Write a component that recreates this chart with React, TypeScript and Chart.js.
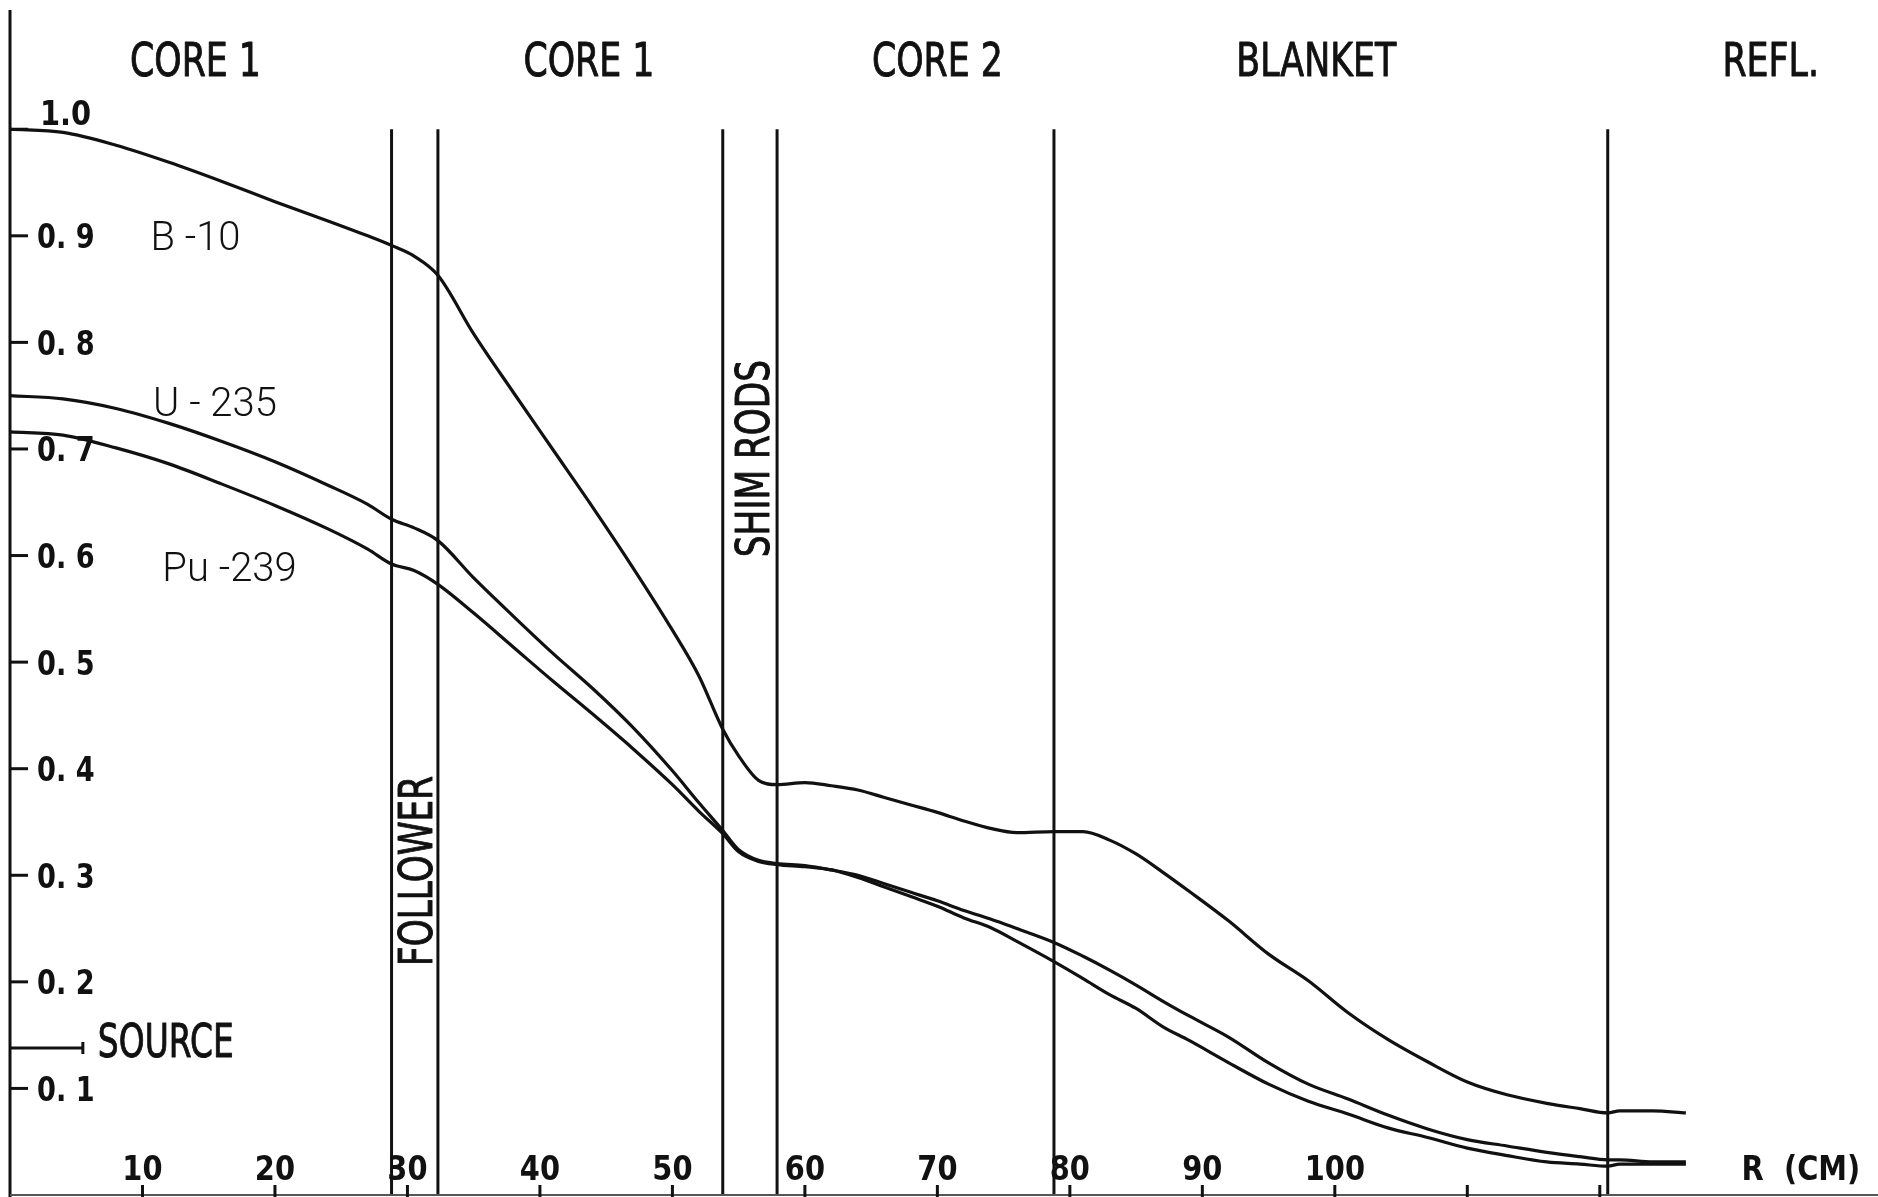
import React, { useEffect, useRef } from "react";
import { Chart, registerables } from "chart.js";

Chart.register(...registerables);

// ---- Data (radius in cm, relative reaction rate) ----
const R_CM = [
  0, 4, 8, 12, 16, 20, 24, 27, 28.8, 30.5, 32.3, 35, 38, 41, 44, 47, 50, 52, 53.8, 55, 56.5, 57.9,
  60, 62, 64, 66, 68, 70, 72, 74, 76, 78.8, 81, 83, 85, 87, 89, 92, 95, 98, 101, 104, 107, 110,
  113, 116, 118.5, 120.6, 121.5, 124, 126.5,
];

const B10 = [
  1.0, 0.997, 0.985, 0.969, 0.951, 0.932, 0.914, 0.9, 0.891, 0.881, 0.863, 0.808, 0.753, 0.699,
  0.645, 0.589, 0.53, 0.487, 0.437, 0.412, 0.389, 0.385, 0.387, 0.384, 0.38, 0.373, 0.366, 0.359,
  0.351, 0.344, 0.34, 0.341, 0.341, 0.333, 0.32, 0.303, 0.285, 0.257, 0.226, 0.201, 0.171, 0.146,
  0.125, 0.106, 0.094, 0.086, 0.081, 0.077, 0.079, 0.079, 0.077,
];

const U235 = [
  0.75, 0.747, 0.738, 0.724, 0.707, 0.688, 0.666, 0.648, 0.634, 0.626, 0.614, 0.579, 0.543, 0.508,
  0.475, 0.439, 0.398, 0.368, 0.342, 0.324, 0.314, 0.311, 0.309, 0.305, 0.3, 0.292, 0.284, 0.276,
  0.267, 0.259, 0.25, 0.237, 0.224, 0.211, 0.197, 0.182, 0.168, 0.148, 0.124, 0.104, 0.09, 0.075,
  0.062, 0.052, 0.046, 0.04, 0.036, 0.033, 0.033, 0.031, 0.031,
];

const PU239 = [
  0.716, 0.713, 0.701, 0.686, 0.667, 0.647, 0.625, 0.606, 0.592, 0.586, 0.573, 0.546, 0.514, 0.482,
  0.451, 0.419, 0.385, 0.36, 0.339, 0.322, 0.313, 0.31, 0.308, 0.305, 0.298, 0.289, 0.28, 0.271,
  0.26, 0.251, 0.238, 0.219, 0.203, 0.188, 0.175, 0.158, 0.145, 0.124, 0.104, 0.088, 0.076, 0.063,
  0.054, 0.044, 0.037, 0.031, 0.029, 0.027, 0.029, 0.029, 0.029,
];

const SERIES_NAMES = ["B -10", "U - 235", "Pu -239"];
const SERIES_LABEL_R = [10.6, 10.8, 11.5];
const SERIES_LABEL_V = [0.9, 0.745, 0.59];

const BOUNDARIES_CM = [28.8, 32.3, 53.8, 57.9, 78.8, 120.6];
const BOUNDARY_TOP = 1.0;

const REGION_NAMES = ["CORE 1", "CORE 1", "CORE 2", "BLANKET", "REFL."];
const REGION_CENTERS_CM = [14.0, 43.7, 70.0, 98.6, 132.9];
const REGION_LABEL_LEVEL = 1.066;

const ROD_NAMES = ["FOLLOWER", "SHIM RODS"];
const ROD_CENTERS_CM = [30.57, 56.0];
const ROD_CENTERS_V = [0.304, 0.691];

const Y_TICKS = [0.1, 0.2, 0.3, 0.4, 0.5, 0.6, 0.7, 0.8, 0.9, 1.0];
const Y_TICK_LABELS = ["0. 1", "0. 2", "0. 3", "0. 4", "0. 5", "0. 6", "0. 7", "0. 8", "0. 9", "1.0"];

const X_TICKS = [10, 20, 30, 40, 50, 60, 70, 80, 90, 100, 110, 120];
const X_TICK_LABELS = ["10", "20", "30", "40", "50", "60", "70", "80", "90", "100", "", ""];
const X_AXIS_TITLE = "R  (CM)";
const X_AXIS_TITLE_R = 130.7;

const SOURCE_LABEL = "SOURCE";
const SOURCE_LEVEL = 0.138;
const SOURCE_END_R = 5.5;

const X_MIN = 0;
const X_MAX = 141;
const Y_MIN = 0;
const Y_MAX = 1.11;

const INK = "#111111";
const PLOT_FONT = "'DejaVu Sans', sans-serif";
const LABEL_FONT = "Roboto, 'Liberation Sans', sans-serif";

function drawText(
  ctx: CanvasRenderingContext2D,
  text: string,
  x: number,
  y: number,
  size: number,
  sx: number,
  align: CanvasTextAlign,
  family: string,
  weight = "normal",
  rotate = 0,
  strokeW = 0
) {
  ctx.save();
  ctx.translate(x, y);
  if (rotate) ctx.rotate(rotate);
  ctx.scale(sx, 1);
  ctx.font = `${weight} ${size}px ${family}`;
  ctx.textAlign = align;
  ctx.textBaseline = "alphabetic";
  const cap = ctx.measureText("H").actualBoundingBoxAscent || size * 0.73;
  ctx.fillStyle = INK;
  ctx.fillText(text, 0, cap / 2);
  if (strokeW > 0) {
    ctx.strokeStyle = INK;
    ctx.lineWidth = strokeW;
    ctx.lineJoin = "round";
    ctx.strokeText(text, 0, cap / 2);
  }
  ctx.restore();
}

const decorPlugin = {
  id: "decor",
  afterDatasetsDraw(chart: any) {
    const ctx: CanvasRenderingContext2D = chart.ctx;
    const xs = chart.scales.x;
    const ys = chart.scales.y;
    const px = (r: number) => xs.getPixelForValue(r);
    const py = (v: number) => ys.getPixelForValue(v);
    const x0 = px(0);
    const yBottom = py(0);

    ctx.save();
    ctx.strokeStyle = INK;
    ctx.lineCap = "butt";

    // y axis
    ctx.lineWidth = 3;
    ctx.beginPath();
    ctx.moveTo(x0, 10);
    ctx.lineTo(x0, chart.height);
    ctx.stroke();

    // x axis (bottom)
    ctx.lineWidth = 2;
    ctx.strokeStyle = "#555";
    ctx.beginPath();
    ctx.moveTo(x0, yBottom);
    ctx.lineTo(chart.width, yBottom);
    ctx.stroke();
    ctx.strokeStyle = INK;

    // y ticks + labels
    ctx.lineWidth = 3;
    Y_TICKS.forEach((v, i) => {
      const y = py(v);
      ctx.beginPath();
      ctx.moveTo(x0, y);
      ctx.lineTo(x0 + 18, y);
      ctx.stroke();
      const label = Y_TICK_LABELS[i];
      if (v >= 1.0) {
        drawText(ctx, label, x0 + 30, y - 17, 34, 0.85, "left", PLOT_FONT, "bold");
      } else {
        drawText(ctx, label, x0 + 27, y, 34, 0.8, "left", PLOT_FONT, "bold");
      }
    });

    // x ticks + labels
    X_TICKS.forEach((r, i) => {
      const x = px(r);
      ctx.lineWidth = 3;
      ctx.beginPath();
      ctx.moveTo(x, yBottom + 2);
      ctx.lineTo(x, yBottom - 10);
      ctx.stroke();
      const label = X_TICK_LABELS[i];
      if (label) drawText(ctx, label, x, yBottom - 28, 34, 0.85, "center", PLOT_FONT, "bold");
    });
    drawText(ctx, X_AXIS_TITLE, px(X_AXIS_TITLE_R), yBottom - 28, 34, 0.85, "left", PLOT_FONT, "bold");

    // source marker
    const ySrc = py(SOURCE_LEVEL);
    const xSrc = px(SOURCE_END_R);
    ctx.lineWidth = 3;
    ctx.beginPath();
    ctx.moveTo(x0, ySrc);
    ctx.lineTo(xSrc, ySrc);
    ctx.moveTo(xSrc, ySrc - 6);
    ctx.lineTo(xSrc, ySrc + 6);
    ctx.stroke();
    drawText(ctx, SOURCE_LABEL, xSrc + 15, ySrc - 8, 47, 0.7, "left", PLOT_FONT, "normal", 0, 1);

    // region titles
    REGION_NAMES.forEach((name, i) => {
      drawText(ctx, name, px(REGION_CENTERS_CM[i]), py(REGION_LABEL_LEVEL), 47, 0.74, "center", PLOT_FONT, "normal", 0, 1);
    });

    // rotated rod labels
    ROD_NAMES.forEach((name, i) => {
      drawText(ctx, name, px(ROD_CENTERS_CM[i]), py(ROD_CENTERS_V[i]), 47, 0.73, "center", PLOT_FONT, "normal", -Math.PI / 2, 1);
    });

    // series labels
    SERIES_NAMES.forEach((name, i) => {
      drawText(ctx, name, px(SERIES_LABEL_R[i]), py(SERIES_LABEL_V[i]), 40, 1, "left", LABEL_FONT, "300");
    });

    ctx.restore();
  },
};

export default function App() {
  const ref = useRef<HTMLCanvasElement | null>(null);

  useEffect(() => {
    document.body.style.margin = "0";
    document.body.style.overflow = "hidden";
    const canvas = ref.current;
    if (!canvas) return;

    const curve = (values: number[]) => ({
      data: R_CM.map((r, i) => ({ x: r, y: values[i] })),
      showLine: true,
      borderColor: INK,
      borderWidth: 3.2,
      pointRadius: 0,
      fill: false,
      tension: 0,
      cubicInterpolationMode: "monotone" as const,
    });

    const boundaryDatasets = BOUNDARIES_CM.map((r) => ({
      data: [
        { x: r, y: Y_MIN },
        { x: r, y: BOUNDARY_TOP },
      ],
      showLine: true,
      borderColor: INK,
      borderWidth: 3,
      pointRadius: 0,
      fill: false,
    }));

    const chart = new Chart(canvas, {
      type: "scatter",
      data: {
        datasets: [curve(B10), curve(U235), curve(PU239), ...boundaryDatasets],
      },
      options: {
        animation: false,
        responsive: false,
        devicePixelRatio: 1,
        layout: { padding: { left: 10, right: 0, top: 12, bottom: 2 } },
        scales: {
          x: { type: "linear", min: X_MIN, max: X_MAX, display: false },
          y: { type: "linear", min: Y_MIN, max: Y_MAX, display: false },
        },
        plugins: {
          legend: { display: false },
          tooltip: { enabled: false },
        },
        events: [],
      },
      plugins: [decorPlugin],
    });

    return () => chart.destroy();
  }, []);

  return (
    <div style={{ width: 1878, height: 1197, background: "#fff" }}>
      <canvas ref={ref} width={1878} height={1197} style={{ display: "block" }} />
    </div>
  );
}
